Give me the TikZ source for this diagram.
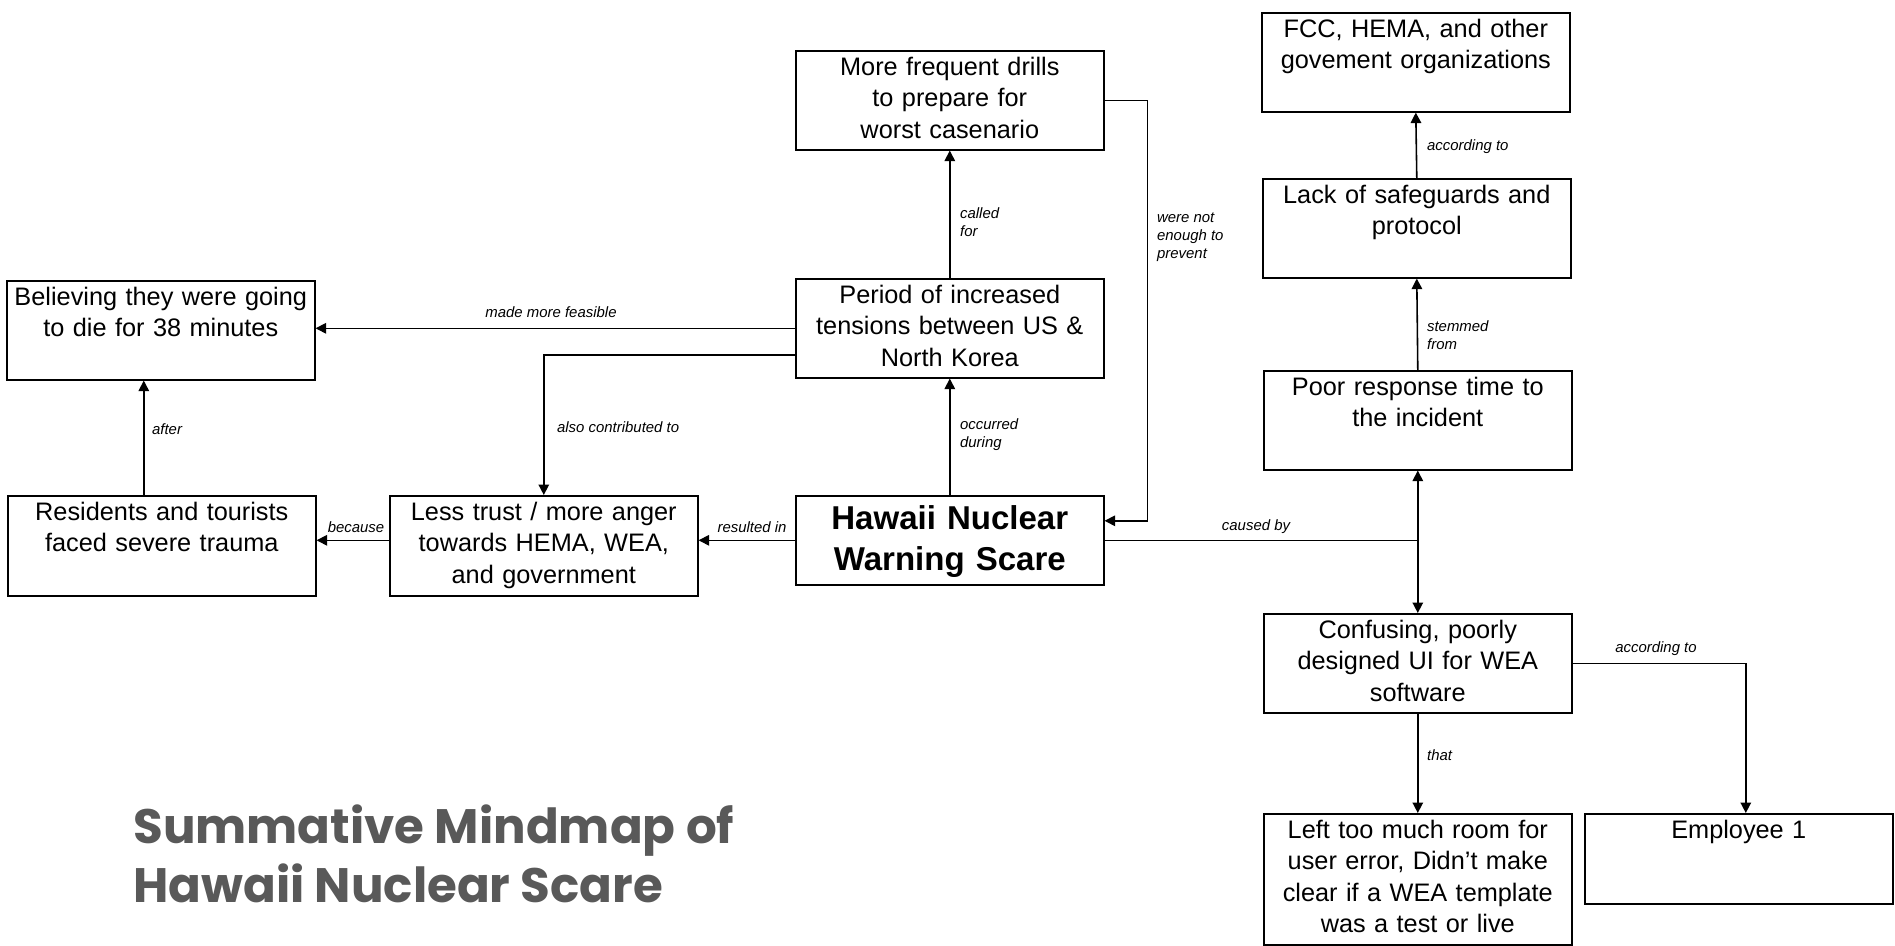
\documentclass[tikz,border=0pt]{standalone}
\usepackage{fontspec}
\setmainfont{Liberation Sans}
\newfontfamily\titlefont{Poppins}
\usetikzlibrary{arrows.meta}
\definecolor{titlegray}{RGB}{89,89,89}

\tikzset{
  box/.style={draw, line width=0.9pt, text width=6.0cm, align=center,
    inner xsep=0.08cm, inner ysep=0.05cm, text height=0.44cm, text depth=#1,
    font=\fontsize{14.4}{17.9}\selectfont},
  box/.default=1.44cm,
  lbl/.style={font=\fontsize{8.5}{10.2}\selectfont\itshape, inner sep=1pt, align=left},
  link/.style={line width=0.9pt, -{Triangle[length=0.21cm, width=0.21cm]}},
}

\begin{document}
\begin{tikzpicture}
\useasboundingbox (0,0) rectangle (37.9,-18.9);

% middle column
\node[box, below right] (drills) at (15.9, -1.0) {More frequent drills\\to prepare for\\worst casenario};
\node[box, below right] (period) at (15.9, -5.56) {Period of increased\\tensions between US \&\\North Korea};
\node[box=1.06cm, below right, text height=0.62cm, font=\fontsize{18.8}{23.3}\selectfont\bfseries] (hawaii) at (15.9, -9.9) {Hawaii Nuclear\\Warning Scare};

% left side
\node[box, below right] (believing) at (0.12, -5.6) {Believing they were going\\to die for 38 minutes};
\node[box=1.46cm, below right] (residents) at (0.14, -9.9) {Residents and tourists\\faced severe trauma};
\node[box=1.46cm, below right] (less) at (7.78, -9.9) {Less trust / more anger\\towards HEMA, WEA,\\and government};

% right column
\node[box, below right] (fcc) at (25.22, -0.24) {FCC, HEMA, and other\\govement organizations};
\node[box, below right] (lack) at (25.24, -3.56) {Lack of safeguards and\\protocol};
\node[box, below right] (poor) at (25.26, -7.4) {Poor response time to\\the incident};
\node[box, below right] (confusing) at (25.26, -12.26) {Confusing, poorly\\designed UI for WEA\\software};
\node[box=2.08cm, below right] (userror) at (25.26, -16.26) {Left too much room for\\user error, Didn’t make\\clear if a WEA template\\was a test or live};
\node[box=1.26cm, below right] (employee) at (31.68, -16.26) {Employee 1};

\node[anchor=base west, align=left, text=titlegray, inner sep=0pt,
  font=\titlefont\bfseries\fontsize{27.5}{33.6}\selectfont] (title) at (2.66, -18.05)
  {Summative Mindmap of\\Hawaii Nuclear Scare};

% connectors
\draw[link] (period.north) -- (drills.south);
\draw[link] (hawaii.north) -- (period.south);
\draw[link] (drills.east) -- ++(0.86,0) |- ([yshift=0.39cm]hawaii.east);
\draw[link] (period.west) -- (period.west -| believing.east);
\draw[link] ([yshift=-0.53cm]period.west) -| (less.north);
\draw[link] (hawaii.west) -- (hawaii.west -| less.east);
\draw[link] (less.west |- hawaii.west) -- (residents.east |- hawaii.west);
\draw[link] ([xshift=-0.36cm]residents.north) -- ([xshift=-0.36cm]residents.north |- believing.south);

\draw[line width=0.9pt] (hawaii.east) -- (hawaii.east -| poor.south) coordinate (split);
\draw[link] (split) -- (poor.south);
\draw[link] (split) -- (confusing.north);
\draw[link] (poor.north) -- (lack.south);
\draw[link] (lack.north) -- (fcc.south);
\draw[link] (confusing.south) -- (userror.north);
\draw[link] (confusing.east) -| ([xshift=0.14cm]employee.north);

% labels
\node[lbl, right] (calledfor) at (19.16, -4.44) {called\\for};
\node[lbl, right] (notenough) at (23.1, -4.74) {were not\\enough to\\prevent};
\node[lbl] (feasible) at (11.02, -6.24) {made more feasible};
\node[lbl, right] (contrib) at (11.1, -8.54) {also contributed to};
\node[lbl, right] (during) at (19.16, -8.69) {occurred\\during};
\node[lbl] (resulted) at (15.04, -10.54) {resulted in};
\node[lbl] (because) at (7.12, -10.54) {because};
\node[lbl, right] (after) at (3.0, -8.58) {after};
\node[lbl] (causedby) at (25.12, -10.54) {caused by};
\node[lbl, right] (stemmed) at (28.5, -6.7) {stemmed\\from};
\node[lbl, right] (accfcc) at (28.5, -2.94) {according to};
\node[lbl] (accemp) at (33.12, -12.98) {according to};
\node[lbl, right] (that) at (28.5, -15.1) {that};
\end{tikzpicture}
\end{document}
